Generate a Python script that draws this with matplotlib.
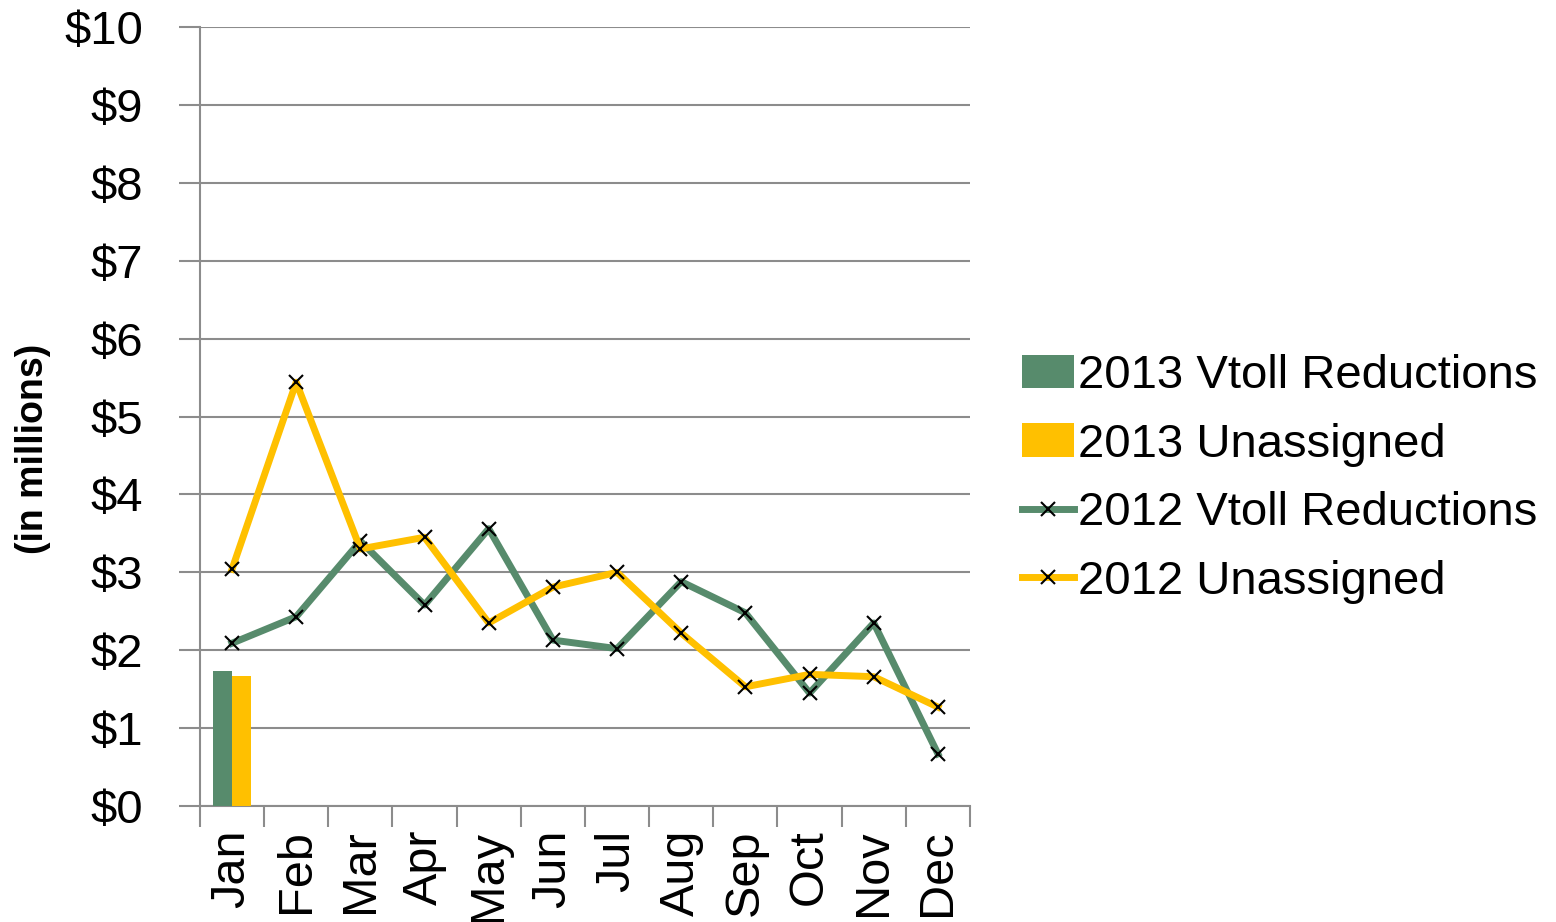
import matplotlib.pyplot as plt
import numpy as np

plt.rcParams['font.family'] = ['Liberation Sans', 'DejaVu Sans']

months = ['Jan', 'Feb', 'Mar', 'Apr', 'May', 'Jun', 'Jul', 'Aug', 'Sep', 'Oct', 'Nov', 'Dec']
vtoll_2013 = [1.73]
unassigned_2013 = [1.67]
vtoll_2012 = [2.09, 2.43, 3.40, 2.58, 3.56, 2.13, 2.02, 2.88, 2.48, 1.45, 2.35, 0.67]
unassigned_2012 = [3.04, 5.44, 3.30, 3.45, 2.35, 2.81, 3.00, 2.22, 1.53, 1.69, 1.66, 1.27]

green = '#578B6C'
yellow = '#FFC000'
grey = '#8C8C8C'

fig = plt.figure(figsize=(15.56, 9.22), dpi=100)
ax = fig.add_axes([0.1285, 0.1258, 0.4949, 0.8449])

x = np.arange(len(months))
w = 0.29
b1 = ax.bar(x[:1] - w / 2, vtoll_2013, w, color=green, label='2013 Vtoll Reductions', zorder=3)
b2 = ax.bar(x[:1] + w / 2, unassigned_2013, w, color=yellow, label='2013 Unassigned', zorder=3)
l1, = ax.plot(x, vtoll_2012, color=green, lw=5, marker='x', ms=10, mec='black', mew=1.5,
              label='2012 Vtoll Reductions', zorder=4)
l2, = ax.plot(x, unassigned_2012, color=yellow, lw=5, marker='x', ms=10, mec='black', mew=1.5,
              label='2012 Unassigned', zorder=4)

ax.set_xlim(-0.5, 11.5)
ax.set_ylim(0, 10)
ax.set_yticks(range(0, 11))
ax.set_yticklabels(['$%d' % v for v in range(0, 11)], fontsize=34)
ax.set_xticks(x)
ax.set_xticklabels(months, rotation=90, fontsize=35)
ax.set_xticks(np.arange(-0.5, 12, 1), minor=True)
ax.tick_params(axis='x', which='major', length=0, pad=17)
ax.tick_params(axis='x', which='minor', length=15, width=1.5, color=grey)
ax.tick_params(axis='y', length=15, width=1.5, color=grey, pad=26)

ax.grid(axis='y', color=grey, lw=1.5, zorder=0)
for s in ['top', 'right']:
    ax.spines[s].set_visible(False)
for s in ['left', 'bottom']:
    ax.spines[s].set_color(grey)
    ax.spines[s].set_linewidth(1.5)

fig.text(0.021, 0.513, '(in millions)', rotation=90, fontsize=27, fontweight='bold',
         ha='center', va='center')

ax.legend([b1, b2, l1, l2],
          ['2013 Vtoll Reductions', '2013 Unassigned', '2012 Vtoll Reductions', '2012 Unassigned'],
          loc='center left', bbox_to_anchor=(1.012, 0.42), frameon=False, fontsize=34,
          handlelength=1.1, handletextpad=0.1, labelspacing=0.52)

fig.savefig('out.png', dpi=100)
